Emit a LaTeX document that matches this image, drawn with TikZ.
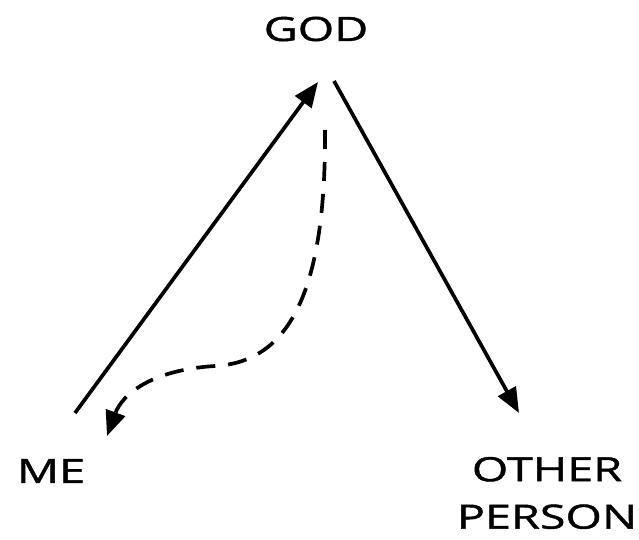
\documentclass[tikz,border=0pt]{standalone}
\usepackage{fontspec}
\setmainfont{Open Sans}[FakeStretch=1.4,FakeBold=1.3]
\usetikzlibrary{arrows.meta,positioning}
\tikzset{lbl/.style={font=\fontsize{19}{27}\selectfont,align=center,inner sep=0pt},
  arr/.style={-{Triangle[length=5mm,width=4mm]},line width=2.1pt},
  darr/.style={arr,dash pattern=on 3.8mm off 2.6mm}}

\begin{document}
\begin{tikzpicture}[x=0.02cm,y=-0.02cm]
\useasboundingbox (0,0) rectangle (639,540);
\node[lbl] (god) at (316,29) {GOD};
\node[lbl] (me) at (51,471) {ME};
\node[lbl] (other) at (547,493) {OTHER\\PERSON};
\coordinate (meout) at (75,413);
\coordinate (godin) at (318,82);
\coordinate (godout) at (334,81);
\coordinate (otherin) at (519,413);
\coordinate (loopstart) at (325,130);
\coordinate (loopend) at (107,436);
\draw[arr] (meout) -- (godin);
\draw[arr] (godout) -- (otherin);
\draw[darr] (loopstart) .. controls (326,290) and (290,362) .. (215,366)
  .. controls (150,370) and (122,395) .. (loopend);
\end{tikzpicture}
\end{document}
